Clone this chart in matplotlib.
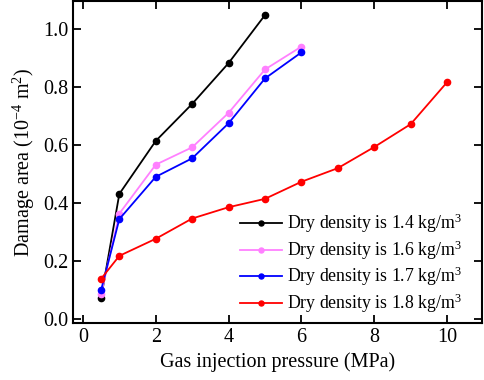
import matplotlib
matplotlib.use("Agg")
import matplotlib.pyplot as plt

plt.rcParams['font.family'] = ['Liberation Serif', 'DejaVu Serif']
plt.rcParams['mathtext.fontset'] = 'custom'
plt.rcParams['mathtext.rm'] = 'Liberation Serif'
plt.rcParams['mathtext.it'] = 'Liberation Serif:italic'

x_14 = [0.5, 1, 2, 3, 4, 5]
y_14 = [0.072, 0.431, 0.614, 0.742, 0.883, 1.049]
x_16 = [0.5, 1, 2, 3, 4, 5, 6]
y_16 = [0.085, 0.363, 0.532, 0.592, 0.711, 0.861, 0.940]
x_17 = [0.5, 1, 2, 3, 4, 5, 6]
y_17 = [0.099, 0.344, 0.490, 0.554, 0.675, 0.830, 0.920]
x_18 = [0.5, 1, 2, 3, 4, 5, 6, 7, 8, 9, 10]
y_18 = [0.138, 0.217, 0.276, 0.346, 0.385, 0.414, 0.473, 0.520, 0.593, 0.672, 0.817]

labels = ["Dry density is 1.4 kg/m$^3$", "Dry density is 1.6 kg/m$^3$",
          "Dry density is 1.7 kg/m$^3$", "Dry density is 1.8 kg/m$^3$"]
colors = ["#000000", "#FF80FF", "#0000FF", "#FF0000"]

fig = plt.figure(figsize=(4.84, 3.80), dpi=100)
ax = fig.add_axes([0.151, 0.150, 0.845, 0.847])

for xs, ys, c, lab in zip([x_14, x_16, x_17, x_18], [y_14, y_16, y_17, y_18], colors, labels):
    ax.plot(xs, ys, '-o', color=c, lw=1.3, ms=4.5, label=lab)

ax.set_xlim(-0.27, 10.96)
ax.set_ylim(-0.015, 1.097)
ax.set_xticks([0, 2, 4, 6, 8, 10])
ax.set_yticks([0.0, 0.2, 0.4, 0.6, 0.8, 1.0])
ax.set_yticklabels(["0.0", "0.2", "0.4", "0.6", "0.8", "1.0"])
ax.tick_params(direction='in', top=True, right=True, length=6, width=1.3, labelsize=14.5)
for s in ax.spines.values():
    s.set_linewidth(1.5)

ax.set_xlabel("Gas injection pressure (MPa)", fontsize=14.5)
ax.set_ylabel("Damage area (10$^{-4}$ m$^2$)", fontsize=14.5)

ax.legend(loc='center left', frameon=False, fontsize=12.8, handlelength=2.36,
          handletextpad=0.28, labelspacing=0.18, borderpad=0, borderaxespad=0,
          markerscale=0.8, bbox_to_anchor=(0.408, 0.185))

fig.savefig("out.png", dpi=100)
